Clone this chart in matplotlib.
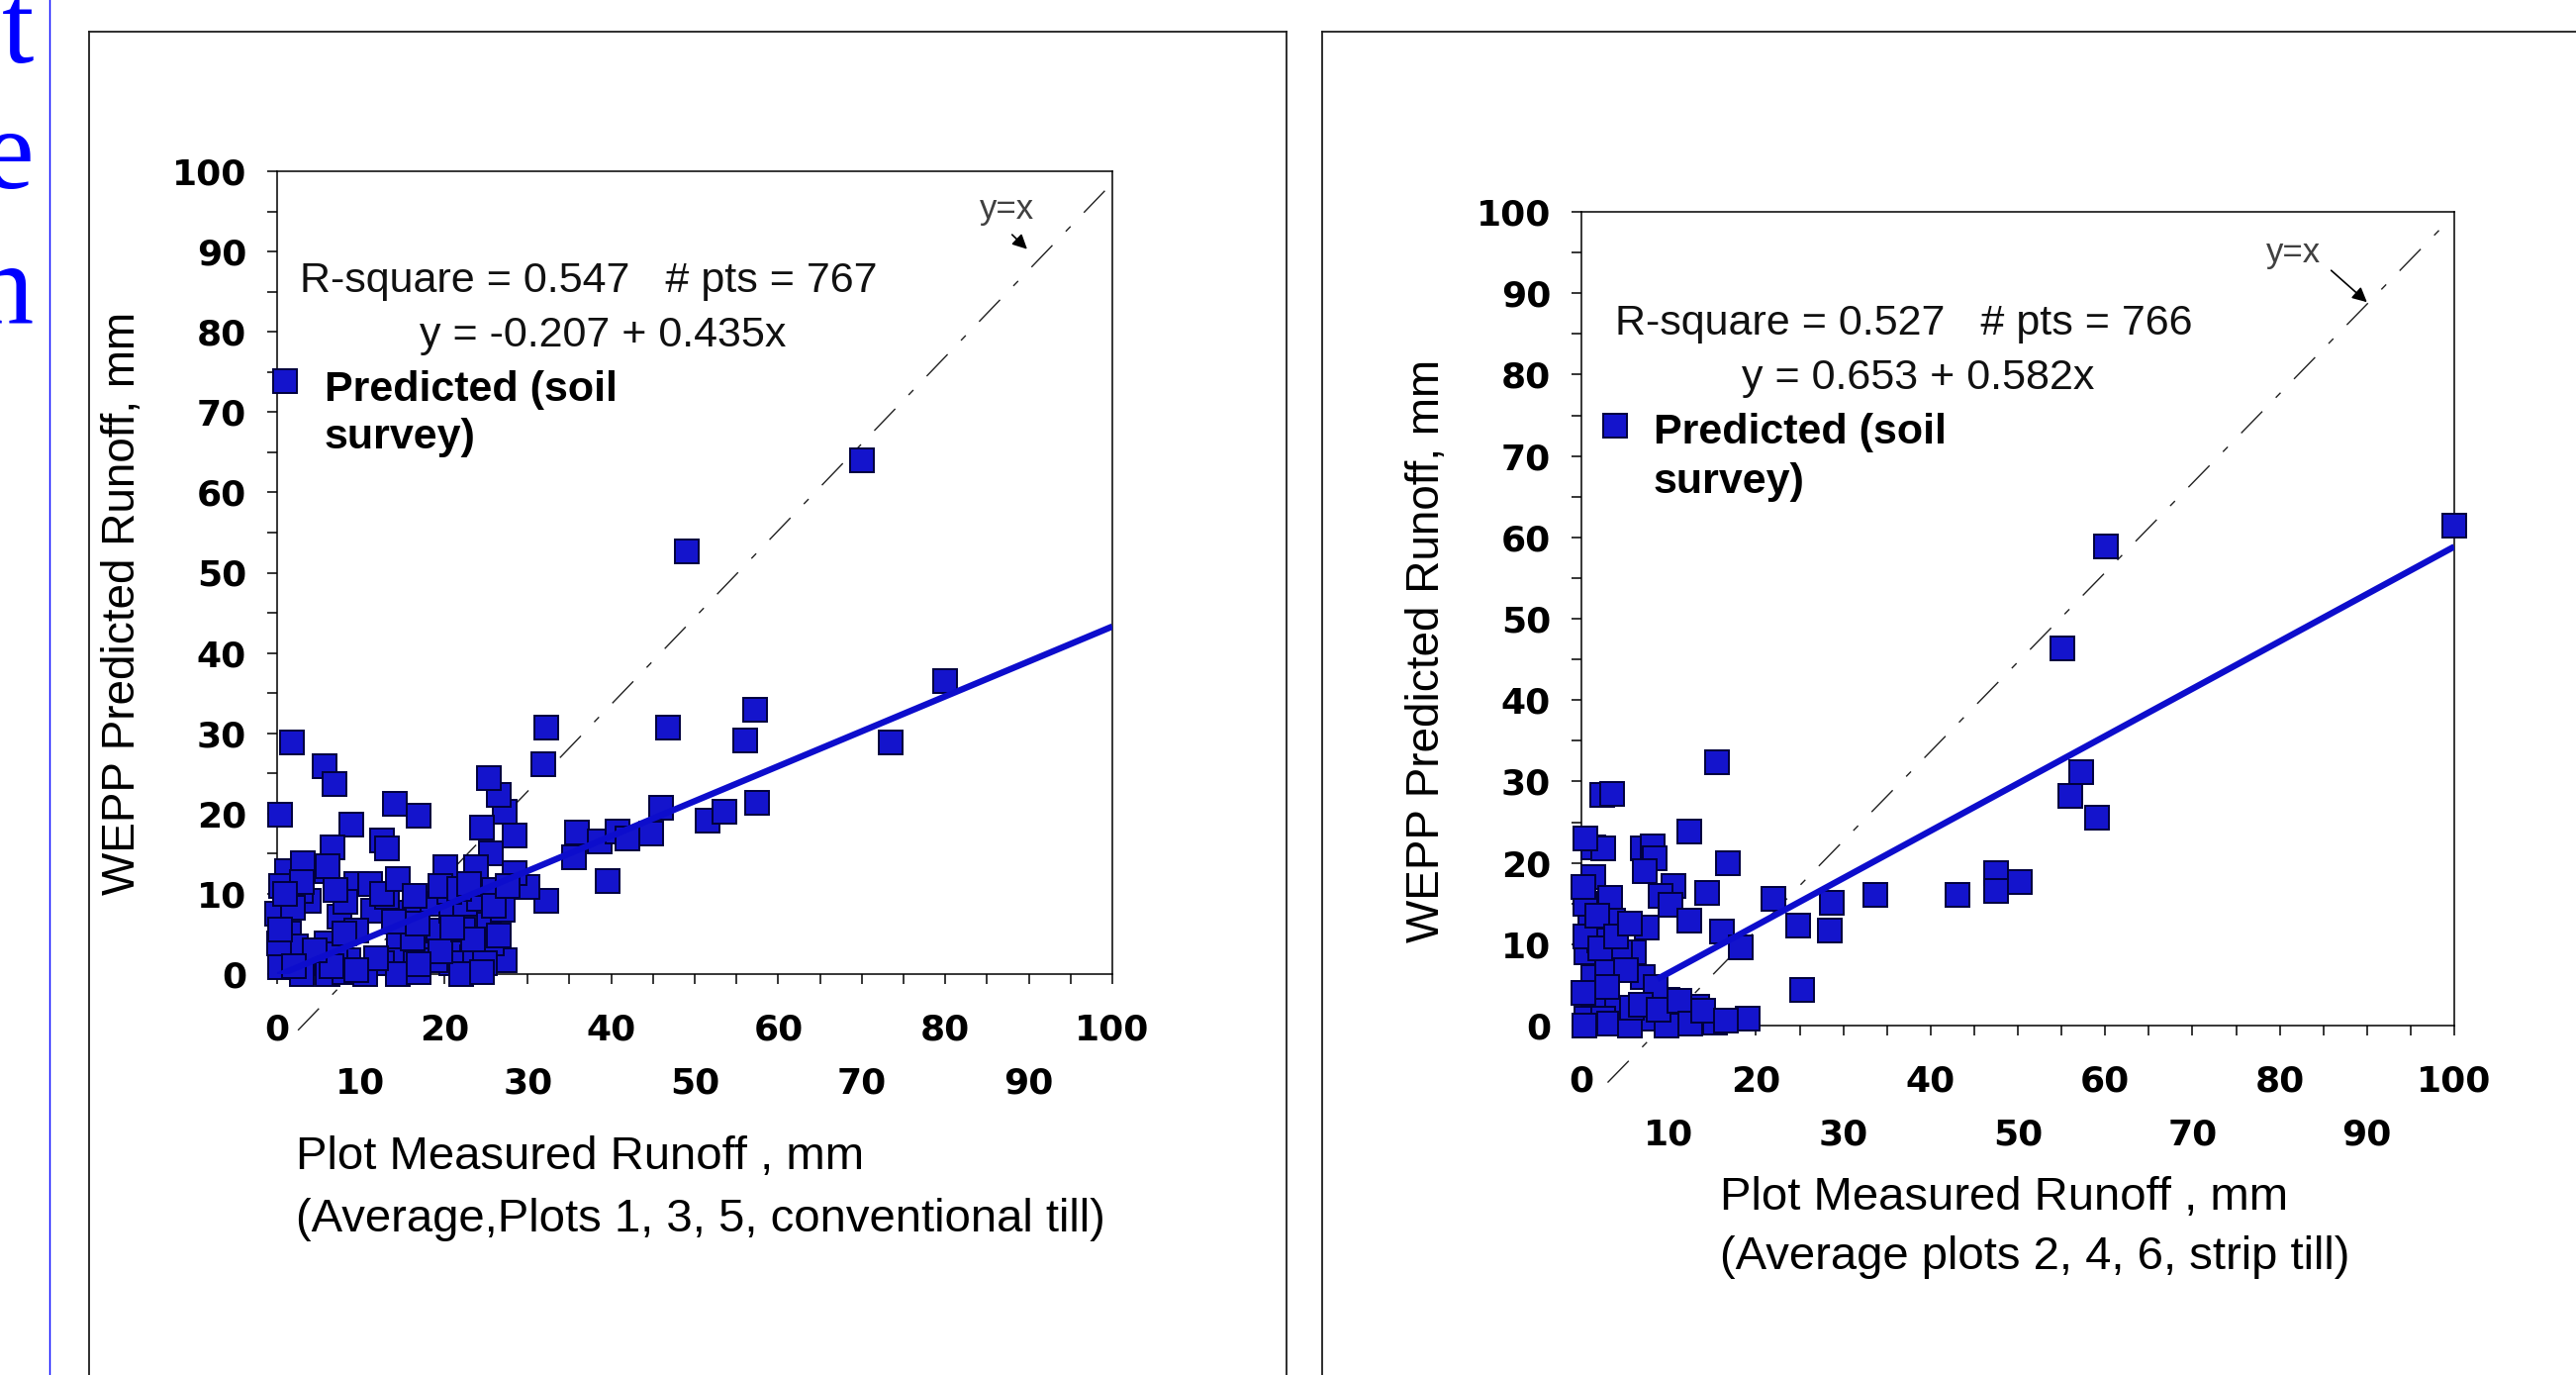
import matplotlib
matplotlib.use("Agg")
import matplotlib.pyplot as plt
from matplotlib.ticker import FixedLocator, FuncFormatter
from matplotlib.lines import Line2D
import numpy as np

W, H, DPI = 2603, 1389, 100

# ---------------- data ----------------
left_x = [70.0, 49.0, 80.0, 73.5, 57.2, 56.0, 57.5, 46.8, 46.0, 44.8, 51.5, 53.5,
          32.2, 31.9, 39.6, 35.9, 35.6, 38.6, 40.7, 42.0, 32.2, 30.0, 28.4, 28.4,
          27.3, 26.5, 25.3, 24.5, 25.6, 23.8, 20.1, 27.3, 18.4, 15.8, 11.5, 9.5,
          11.1, 7.5, 5.9, 3.8, 2.8, 1.2, 1.4, 1.2, 5.9, 9.5, 14.6, 17.4, 19.3,
          20.9, 22.5, 21.7, 23.3, 25.3, 25.7, 24.9, 20.9, 18.9, 15.8, 13.8, 12.6,
          8.5, 4.7, 2.8, 0.4, 0.0, 1.8, 5.7, 6.9, 0.4, 14.1, 17.0, 8.9, 12.6,
          13.2, 6.6, 6.0, 0.5, 3.0, 6.0, 8.0, 10.5, 14.5, 17.0, 22.0, 24.5, 2.2,
          7.0, 16.2, 19.5, 22.3, 24.2, 20.6, 16.8, 13.2, 8.2, 1.9, 3.1, 0.2,
          3.0, 7.0, 12.5, 14.5, 16.5, 19.5, 21.8, 23.0, 26.0, 27.0, 26.5, 23.5,
          21.0, 17.0, 14.0, 11.8, 9.5, 6.5, 8.0, 4.5, 1.0, 0.3, 2.0, 25.9, 27.6]
left_y = [64.0, 52.6, 36.5, 28.9, 32.9, 29.1, 21.3, 30.7, 20.7, 17.5, 19.1, 20.2,
          30.7, 26.1, 11.6, 17.6, 14.6, 16.5, 17.8, 16.9, 9.1, 10.8, 12.6, 17.3,
          20.2, 22.3, 24.4, 18.2, 15.0, 13.3, 13.3, 1.7, 8.7, 7.7, 7.9, 11.2,
          11.2, 7.1, 12.8, 9.1, 10.3, 12.8, 5.0, 2.1, 3.8, 5.4, 4.6, 3.0, 5.4,
          7.9, 8.7, 3.8, 2.1, 6.2, 3.8, 1.3, 1.3, 1.7, 1.3, 1.7, 1.3,
          1.7, 1.3, 0.9, 0.9, 7.5, 28.9, 25.9, 23.7, 19.8, 21.2, 19.7, 18.6, 16.7,
          15.7, 15.8, 13.4, 11.0, 0.0, 0.0, 0.3, 0.0, 0.0, 0.2, 0.0, 0.3, 3.5,
          2.5, 4.5, 2.8, 5.6, 9.4, 10.2, 6.3, 9.6, 9.0, 8.2, 13.8, 3.8,
          11.5, 10.5, 10.0, 11.8, 9.8, 11.0, 10.6, 11.2, 10.5, 8.0, 4.8, 4.3,
          5.8, 1.2, 6.5, 2.0, 0.5, 1.0, 5.0, 3.0, 10.0, 5.5, 1.0, 8.5, 11.0]

right_x = [100.0, 60.1, 55.1, 57.2, 56.0, 59.1, 47.5, 47.5, 50.2, 43.1, 33.7, 28.7,
           28.5, 24.8, 25.3, 22.0, 19.0, 15.5, 16.8, 12.4, 2.4, 3.5, 1.4, 2.5,
           7.0, 8.2, 8.4, 7.2, 1.4, 10.6, 14.4, 9.1, 10.2, 3.3, 12.4, 3.6, 7.5,
           16.1, 18.2, 15.3, 13.3, 9.9, 7.0, 6.0, 4.4, 1.0, 0.6, 1.4, 2.9, 3.6,
           1.4, 7.8, 11.9, 0.6, 2.5, 8.5, 5.1, 0.3, 3.2, 5.5, 9.8, 0.2, 0.4,
           2.0, 5.8, 0.5, 1.8, 2.2, 4.0, 5.5, 3.0, 6.8, 8.8, 11.2, 12.5, 14.0,
           16.5, 0.2, 0.4]
right_y = [61.4, 58.9, 46.4, 31.1, 28.2, 25.5, 18.7, 16.6, 17.6, 16.1, 16.1, 15.1,
           11.7, 12.3, 4.4, 15.6, 0.8, 32.4, 20.0, 23.9, 28.3, 28.5, 21.9, 21.8,
           21.8, 22.0, 20.6, 19.0, 18.2, 17.2, 16.3, 15.9, 14.9, 15.7, 12.9, 12.9,
           12.1, 11.5, 9.6, 0.4, 2.3, 3.2, 6.0, 9.0, 9.0, 12.1, 9.0, 6.0, 6.8, 2.0,
           2.0, 0.8, 1.2, 0.8, 0.8, 4.8, 6.8, 0.0, 0.2, 0.0, 0.0, 4.0, 15.0,
           10.5, 2.2, 11.0, 13.5, 9.5, 11.0, 12.5, 4.8, 2.5, 2.0, 3.0, 0.3, 1.8,
           0.6, 17.0, 23.0]

left_fit = (-0.207, 0.435)      # intercept, slope
right_fit = (0.653, 0.582)
left_fit_x = [0.0, 100.0]
right_fit_x = [8.7, 100.0]
left_ref_x = [2.5, 99.5]        # hand-drawn "y=x" guide line
left_ref_y = [-7.0, 98.0]
right_ref_x = [3.0, 98.5]
right_ref_y = [-7.0, 98.0]

tick_vals = list(range(0, 101, 10))
minor_vals = [v for v in range(5, 100, 5) if v % 20 != 0]

left_texts = ["R-square = 0.547   # pts = 767", "y = -0.207 + 0.435x"]
right_texts = ["R-square = 0.527   # pts = 766", "y = 0.653 + 0.582x"]
legend_lines = ["Predicted (soil", "survey)"]
ylabel = "WEPP Predicted Runoff, mm"
left_xlabel = ["Plot Measured Runoff , mm", "(Average,Plots 1, 3, 5, conventional till)"]
right_xlabel = ["Plot Measured Runoff , mm", "(Average plots 2, 4, 6, strip till)"]
side_letters = ["t", "e", "n"]

# ---------------- style ----------------
plt.rcParams["font.family"] = ["DejaVu Sans"]
plt.rcParams["font.weight"] = "bold"
SANS = "Liberation Sans"
SERIF = "Liberation Serif"
FACE = "#1414cc"
EDGE = "#00003c"
LINEC = "#0d0dcc"
MS = 17

fig = plt.figure(figsize=(W / DPI, H / DPI), dpi=DPI)
fig.patch.set_facecolor("white")


def fx(px):
    return px / W


def fy(py):
    return 1 - py / H


def ftext(px, py, s, **kw):
    fig.text(fx(px), fy(py), s, **kw)


# frames and side decorations
for (x0, y0, x1, y1) in [(90, 32, 90, H), (90, 32, 1300, 32), (1300, 32, 1300, H),
                         (1336, 32, 1336, H), (1336, 32, W, 32)]:
    fig.add_artist(Line2D([fx(x0), fx(x1)], [fy(y0), fy(y1)], transform=fig.transFigure,
                          color="#1e1e1e", lw=1.3))
fig.add_artist(Line2D([fx(50), fx(50)], [fy(0), fy(H)], transform=fig.transFigure,
                      color="#0000ff", lw=1.0))
for s, base in zip(side_letters, [63, 190, 325]):
    ftext(34, base, s, family=SERIF, weight="normal", size=84, color="#0000ff",
          ha="right", va="baseline")


def panel(rect, xs, ys, fit, fitx, refx, refy, texts, text_pos, leg_pos, ylab_pos,
          xlab, xlab_pos, yx_text, yx_tail, yx_head):
    ax = fig.add_axes(rect)
    ax.set_xlim(0, 100)
    ax.set_ylim(0, 100)
    ax.plot(refx, refy, color="#202020", lw=1.0, dashes=(22, 14, 5, 14),
            clip_on=False, zorder=1)
    ax.plot(xs, ys, "s", ms=MS, mfc=FACE, mec=EDGE, mew=1.4, clip_on=False, zorder=3)
    fxs = np.array(fitx)
    ax.plot(fxs, fit[0] + fit[1] * fxs, color=LINEC, lw=4.6, zorder=4,
            solid_capstyle="butt")
    ax.text(*yx_text, "y=x", family=SANS, weight="normal", size=25, color="#404040",
            ha="center", va="center")
    ax.annotate("", xy=yx_head, xytext=yx_tail,
                arrowprops=dict(arrowstyle="-|>", color="black", lw=1.2,
                                mutation_scale=22, shrinkA=0, shrinkB=0))
    # ticks
    ax.yaxis.set_major_locator(FixedLocator(tick_vals))
    ax.yaxis.set_minor_locator(FixedLocator([10 * k + 5 for k in range(10)]))
    ax.xaxis.set_major_locator(FixedLocator(tick_vals[::2]))
    ax.xaxis.set_minor_locator(FixedLocator(minor_vals))
    ax.yaxis.set_minor_formatter(FuncFormatter(lambda v, p: ""))
    ax.xaxis.set_minor_formatter(
        FuncFormatter(lambda v, p: f"{int(round(v))}" if int(round(v)) % 20 == 10 else ""))
    ax.tick_params(which="both", direction="out", length=7.2, width=1.1, color="black",
                   top=False, right=False)
    ax.tick_params(axis="y", which="major", pad=15, labelsize=26)
    ax.tick_params(axis="x", which="major", pad=21, labelsize=26)
    ax.tick_params(axis="x", which="minor", pad=60, labelsize=26)
    for sp in ax.spines.values():
        sp.set_linewidth(1.1)
        sp.set_color("black")
    # texts
    for s, (cx, by) in zip(texts, text_pos):
        ftext(cx, by, s, family=SANS, weight="normal", size=31, ha="center", va="baseline",
              color="#111111")
    mx, my, tx, b1, b2 = leg_pos
    fig.add_artist(Line2D([fx(mx)], [fy(my)], transform=fig.transFigure, marker="s",
                          ms=MS, mfc=FACE, mec=EDGE, mew=1.4, ls="none"))
    ftext(tx, b1, legend_lines[0], family=SANS, weight="bold", size=31, va="baseline")
    ftext(tx, b2, legend_lines[1], family=SANS, weight="bold", size=31, va="baseline")
    ftext(ylab_pos[0], ylab_pos[1], ylabel, family=SANS, weight="normal", size=33,
          rotation=90, ha="center", va="center")
    for s, (lx, by) in zip(xlab, xlab_pos):
        ftext(lx, by, s, family=SANS, weight="normal", size=34, ha="left", va="baseline")
    return ax


panel([fx(280), fy(984), (1124 - 280) / W, (984 - 173) / H],
      left_x, left_y, left_fit, left_fit_x, left_ref_x, left_ref_y,
      left_texts, [(595, 295), (609, 350)], (288, 385, 328, 405, 453),
      (124, 609), left_xlabel, [(299, 1181), (299, 1244)],
      (87.4, 95.2), (88.0, 92.1), (89.8, 90.3))

panel([fx(1598), fy(1036), (2480 - 1598) / W, (1036 - 214) / H],
      right_x, right_y, right_fit, right_fit_x, right_ref_x, right_ref_y,
      right_texts, [(1924, 338), (1938, 393)], (1632, 430, 1671, 448, 498),
      (1442, 657), right_xlabel, [(1738, 1222), (1738, 1282)],
      (81.6, 94.9), (85.9, 92.8), (90.0, 88.9))

fig.savefig("out.png", dpi=DPI, facecolor="white")
